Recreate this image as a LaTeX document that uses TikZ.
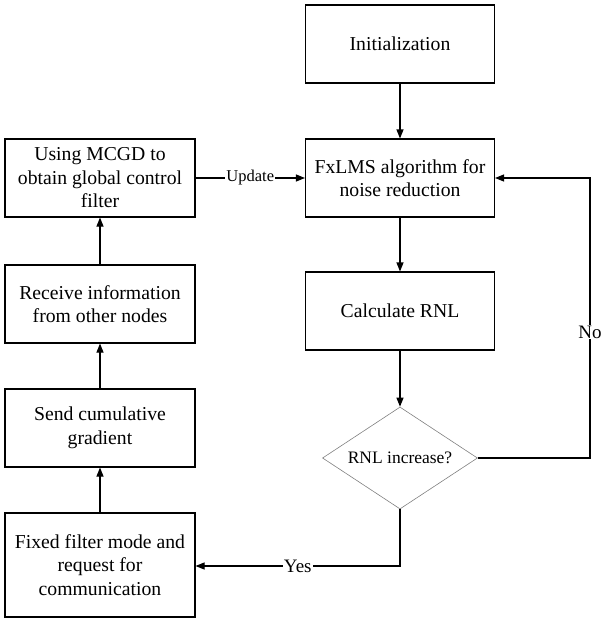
\documentclass[tikz,border=0pt]{standalone}
\usepackage{fontspec}
\setmainfont{Liberation Serif}
\usetikzlibrary{shapes.geometric,arrows.meta}
\begin{document}
\begin{tikzpicture}[x=1pt,y=-1pt,
  box/.style={draw,line width=1.1pt,minimum width=189pt,minimum height=78pt,align=center,inner sep=2pt,
    font=\fontsize{19.7}{23.5}\selectfont},
  dec/.style={draw=gray,line width=0.6pt,diamond,minimum width=155pt,minimum height=102pt,aspect=1.52,inner sep=0pt,
    font=\fontsize{17.5}{21}\selectfont},
  arr/.style={line width=1.1pt,-{Triangle[length=9pt,width=7pt]}},
  lbl/.style={fill=white,inner sep=1pt,font=\fontsize{19}{22}\selectfont}]
\useasboundingbox (0,0) rectangle (601,622);
\node[box] (init) at (400,44) {Initialization};
\node[box] (fx) at (400,178) {FxLMS algorithm for\\noise reduction};
\node[box] (calc) at (400,311) {Calculate RNL};
\node[dec] (dec) at (400,458) {RNL increase?};
\node[box,minimum width=190pt] (mcgd) at (100,178) {Using MCGD to\\obtain global control\\filter};
\node[box,minimum width=190pt] (recv) at (100,304) {Receive information\\from other nodes};
\node[box,minimum width=190pt] (send) at (100,428) {Send cumulative\\gradient};
\node[box,minimum width=190pt,minimum height=104pt] (fixed) at (100,565) {Fixed filter mode and\\request for\\communication};
\coordinate (nr) at (590,458);
\coordinate (nt) at (590,178);
\coordinate (yb) at (400,566);
\draw[arr] (init) -- (fx);
\draw[arr] (fx) -- (calc);
\draw[arr] (calc) -- (dec);
\draw[arr] (mcgd) -- node[lbl,font=\fontsize{16.5}{20}\selectfont]{Update} (fx);
\draw[arr] (dec.east) -- (nr) -- node[lbl,pos=0.45]{No} (nt) -- (fx.east);
\draw[arr] (dec.south) -- (yb) -- node[lbl]{Yes} (fixed.east |- yb);
\draw[arr] (fixed) -- (send);
\draw[arr] (send) -- (recv);
\draw[arr] (recv) -- (mcgd);
\end{tikzpicture}
\end{document}
